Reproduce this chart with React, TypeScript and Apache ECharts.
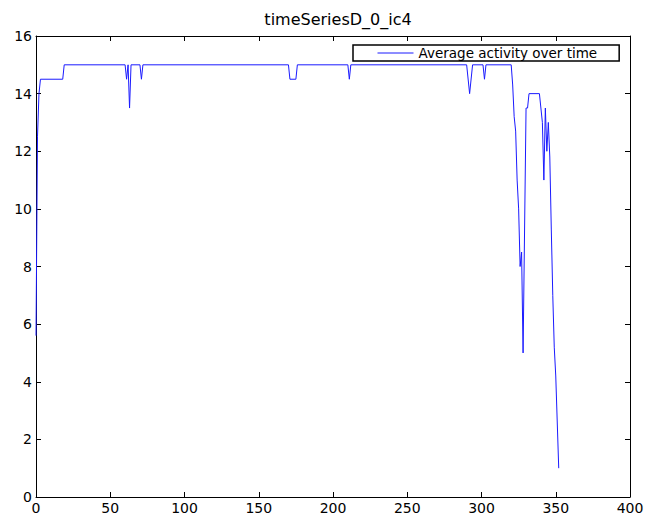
import React, { useEffect, useRef } from "react";
import * as echarts from "echarts";

const title = "timeSeriesD_0_ic4";
const seriesName = "Average activity over time";
const xValues = [
  0, 1, 2, 3, 18, 19, 60, 61, 62, 63, 64, 70, 71, 72, 170, 171, 175, 176, 210, 211, 212,
  290, 292, 294, 301, 302, 303, 320, 321, 322, 323, 324, 325, 326, 327, 328, 330, 331, 332,
  339, 341, 342, 343, 344, 345, 346, 347, 348, 349, 350, 352,
];
const yValues = [
  5.6, 12.5, 14, 14.5, 14.5, 15, 15, 14.5, 15, 13.5, 15, 15, 14.5, 15, 15, 14.5, 14.5, 15, 15, 14.5, 15,
  15, 14, 15, 15, 14.5, 15, 15, 14.3, 13.2, 12.7, 11, 10, 8, 8.5, 5, 13.5, 13.5, 14,
  14, 13, 11, 13.5, 12, 13, 11.8, 9.3, 7, 5.2, 4.2, 1,
];
const xTicks = { min: 0, max: 400, interval: 50 };
const yTicks = { min: 0, max: 16, interval: 2 };

export default function App() {
  const ref = useRef<HTMLDivElement>(null);
  useEffect(() => {
    if (!ref.current) return;
    const chart = echarts.init(ref.current, undefined, { renderer: "svg" });
    const font = "'DejaVu Sans', sans-serif";
    const data = xValues.map((x, i) => [x, yValues[i]]);
    const axisCommon = {
      axisLine: { show: true, onZero: false, lineStyle: { color: "#000", width: 1 } },
      axisTick: { show: true, inside: true, length: 5, lineStyle: { color: "#000" } },
      splitLine: { show: false },
    };
    chart.setOption({
      animation: false,
      backgroundColor: "#fff",
      title: {
        text: title,
        left: 333,
        textAlign: "center",
        top: 6,
        textStyle: { fontFamily: font, fontSize: 16, fontWeight: "normal", color: "#000" },
      },
      legend: {
        show: true,
        left: 353,
        top: 45,
        orient: "horizontal",
        borderColor: "#000",
        borderWidth: 1.5,
        borderRadius: 0,
        padding: [1, 22, 1, 24],
        itemWidth: 36,
        itemHeight: 14,
        itemGap: 0,
        itemStyle: { opacity: 0 },
        lineStyle: { width: 1, color: "#1a1aff" },
        textStyle: { fontFamily: font, fontSize: 13.5, color: "#000" },
        data: [seriesName],
      },
      grid: { left: 36, right: 19, top: 36, bottom: 26, containLabel: false },
      xAxis: [
        {
          type: "value",
          ...xTicks,
          ...axisCommon,
          axisLabel: { fontFamily: font, fontSize: 14, color: "#000", margin: 4 },
        },
        {
          type: "value",
          position: "top",
          ...xTicks,
          ...axisCommon,
          axisLabel: { show: false },
        },
      ],
      yAxis: [
        {
          type: "value",
          ...yTicks,
          ...axisCommon,
          axisLabel: { fontFamily: font, fontSize: 14, color: "#000", margin: 4 },
        },
        {
          type: "value",
          position: "right",
          ...yTicks,
          ...axisCommon,
          axisLabel: { show: false },
        },
      ],
      series: [
        {
          name: seriesName,
          type: "line",
          data,
          xAxisIndex: 0,
          yAxisIndex: 0,
          symbol: "none",
          lineStyle: { color: "#1a1aff", width: 1 },
          itemStyle: { color: "#1a1aff" },
        },
      ],
    });
    return () => chart.dispose();
  }, []);
  return (
    <div
      ref={ref}
      style={{ position: "absolute", left: 0, top: 0, width: 649, height: 523 }}
    />
  );
}
